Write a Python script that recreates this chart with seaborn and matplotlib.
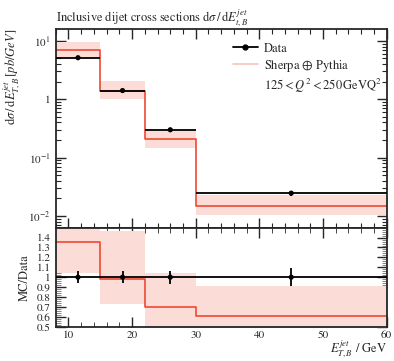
import numpy as np
import matplotlib
matplotlib.use("Agg")
import matplotlib.pyplot as plt
from matplotlib.ticker import MultipleLocator, LogLocator, FuncFormatter, NullFormatter, FixedLocator
from matplotlib.lines import Line2D
import seaborn as sns

edges = [8, 15, 22, 30, 60]
data_x = [11.5, 18.5, 26, 45]
data_y = [5.15, 1.41, 0.30, 0.0246]
data_relerr = [0.06, 0.06, 0.065, 0.09]
mc_y = [7.0, 1.38, 0.21, 0.0149]
mc_lo = [5.35, 1.03, 0.145, 0.0104]
mc_hi = [9.7, 2.07, 0.312, 0.0225]

red = "#ee4a33"
band = "#fbdcd7"

sns.set_style("ticks")
plt.rcParams["font.family"] = ["STIXGeneral", "DejaVu Serif"]
plt.rcParams["mathtext.fontset"] = "stix"
plt.rcParams["axes.linewidth"] = 1.3

edges = np.array(edges, dtype=float)
dy = np.array(data_y)
derr = dy * np.array(data_relerr)
xerr = np.diff(edges) / 2
xc = (edges[:-1] + edges[1:]) / 2


def ext(v):
    v = list(v)
    return np.array(v + [v[-1]])


fig = plt.figure(figsize=(3.94, 3.61), dpi=100)
ax = fig.add_axes([0.1414, 0.3693, 0.840, 0.5504])
rax = fig.add_axes([0.1414, 0.095, 0.840, 0.2743], sharex=ax)

# main panel
ax.fill_between(edges, ext(mc_lo), ext(mc_hi), step="post", color=band, lw=0, zorder=1)
sns.lineplot(x=edges, y=ext(mc_y), drawstyle="steps-post", color=red, lw=1.2,
             estimator=None, ax=ax, zorder=2)
ax.errorbar(xc, dy, xerr=xerr, yerr=derr, fmt="none", ecolor="black", elinewidth=1.3, capsize=0, zorder=3)
sns.scatterplot(x=data_x, y=data_y, color="black", s=14, edgecolor="none", ax=ax, zorder=4)

ax.set_yscale("log")
ax.set_xlim(8, 60)
ax.set_ylim(0.0063, 16)


def logfmt(v, pos):
    if abs(v - 1) < 1e-9:
        return "1"
    e = int(round(np.log10(v)))
    return rf"$10^{{{e}}}$"


ax.yaxis.set_major_locator(LogLocator(base=10, numticks=10))
ax.yaxis.set_major_formatter(FuncFormatter(logfmt))
ax.yaxis.set_minor_locator(LogLocator(base=10, subs=np.arange(2, 10), numticks=20))
ax.yaxis.set_minor_formatter(NullFormatter())
ax.xaxis.set_major_locator(MultipleLocator(10))
ax.xaxis.set_minor_locator(MultipleLocator(2))
ax.tick_params(axis="x", labelbottom=False)
ax.tick_params(which="both", direction="in", top=True, right=True, labelsize=8)
ax.tick_params(which="major", length=7, width=1.0)
ax.tick_params(which="minor", length=3.5, width=0.8)

ax.set_title(r"Inclusive dijet cross sections d$\sigma\,/\,$d$E_{t,B}^{jet}$", loc="left",
             fontsize=9, pad=5)
ax.set_ylabel(r"d$\sigma\,/\,$d$E_{T,B}^{jet}\,[pb/GeV]$", loc="top", fontsize=9)
ax.set_xlabel("")

handles = [
    Line2D([], [], color="black", marker="o", ms=3.5, lw=1.3),
    Line2D([], [], color="#f7c4bc", lw=1.2),
    Line2D([], [], color="none"),
]
labels = ["Data", r"Sherpa $\oplus$ Pythia", r"$125 < Q^2 < 250\,\mathrm{GeVQ}^2$"]
ax.legend(handles, labels, loc="upper left", bbox_to_anchor=(0.52, 0.955), frameon=False,
          fontsize=9, handlelength=2.0, handletextpad=0.5, labelspacing=0.25, borderaxespad=0)

# ratio panel
r_mc = np.array(mc_y) / dy
r_lo = np.array(mc_lo) / dy
r_hi = np.array(mc_hi) / dy
rax.fill_between(edges, ext(r_lo), ext(r_hi), step="post", color=band, lw=0, zorder=1)
sns.lineplot(x=edges, y=ext(r_mc), drawstyle="steps-post", color=red, lw=1.2,
             estimator=None, ax=rax, zorder=2)
rax.errorbar(xc, np.ones(len(dy)), xerr=xerr, yerr=data_relerr, fmt="none", ecolor="black",
             elinewidth=1.3, capsize=0, zorder=3)
sns.scatterplot(x=data_x, y=np.ones(len(dy)), color="black", s=14, edgecolor="none", ax=rax, zorder=4)

rax.set_ylim(0.5, 1.5)
rax.yaxis.set_major_locator(FixedLocator(np.round(np.arange(0.5, 1.41, 0.1), 1)))
rax.yaxis.set_major_formatter(FuncFormatter(lambda v, p: "1" if abs(v - 1) < 1e-9 else f"{v:.1f}"))
rax.yaxis.set_minor_locator(MultipleLocator(0.02))
rax.tick_params(which="both", direction="in", top=True, right=True, labelsize=8)
rax.tick_params(which="major", length=7, width=1.0)
rax.tick_params(which="minor", length=3.5, width=0.6)
rax.tick_params(axis="y", which="minor", width=0.5, color="#555555")
rax.tick_params(axis="x", pad=2.5)
rax.set_ylabel("MC/Data", fontsize=9)
rax.set_xlabel(r"$E_{T,B}^{jet}$ / GeV", loc="right", fontsize=9, labelpad=-1)

fig.align_ylabels([ax, rax])
fig.savefig("out.png", dpi=100)
